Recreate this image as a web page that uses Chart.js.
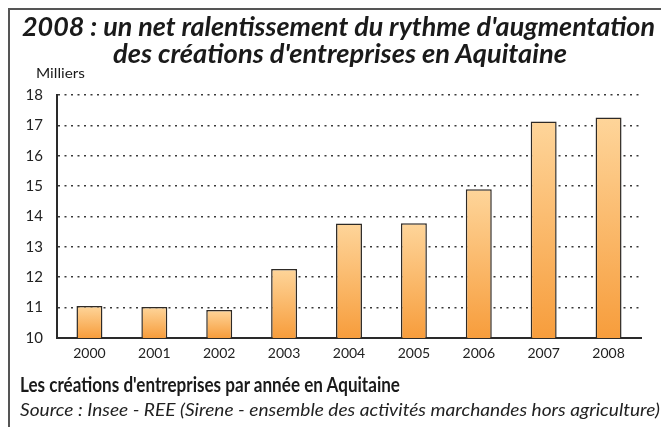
<!DOCTYPE html>
<html><head><meta charset="utf-8">
<script src="https://cdn.jsdelivr.net/npm/chart.js@4.4.0/dist/chart.umd.min.js"></script>
<style>
html,body{margin:0;padding:0;background:#fff;}
#wrap{position:relative;width:661px;height:427px;overflow:hidden;}
#frame{position:absolute;left:8px;top:8px;width:660px;height:430px;border-left:2px solid #555;border-top:2px solid #555;box-sizing:border-box;}
canvas{position:absolute;left:0;top:0;}
.t{position:absolute;white-space:nowrap;color:#1a1a1a;transform-origin:0 0;}
#t1,#t2{font-family:Lato,"Open Sans",sans-serif;font-weight:bold;font-style:italic;font-size:27px;line-height:1;}
#t1{top:12px;}
#t2{top:39px;}
#unit{left:36px;top:66px;font-family:Lato,sans-serif;font-size:14px;line-height:1;}
#sub{left:20px;top:374px;font-family:Lato,sans-serif;font-weight:bold;font-size:20px;line-height:1;}
#src{left:20px;top:401px;font-family:Lato,sans-serif;font-style:italic;font-size:17.5px;line-height:1;color:#222;}
</style></head>
<body><div id="wrap">
<div id="frame"></div>
<canvas id="c" width="661" height="427"></canvas>
<div class="t" id="t1">2008 : un net ralentissement du rythme d'augmentation</div>
<div class="t" id="t2">des créations d'entreprises en Aquitaine</div>
<div class="t" id="unit">Milliers</div>
<div class="t" id="sub">Les créations d'entreprises par année en Aquitaine</div>
<div class="t" id="src">Source : Insee - REE (Sirene - ensemble des activités marchandes hors agriculture)</div>
</div>
<script>
const categories = ["2000","2001","2002","2003","2004","2005","2006","2007","2008"];
const creations = [11.05, 11.02, 10.92, 12.27, 13.77, 13.78, 14.90, 17.13, 17.26];
const yTicks = [10,11,12,13,14,15,16,17,18];

function fit(id, left, width){
  const el = document.getElementById(id);
  el.style.transform = 'none';
  const w = el.getBoundingClientRect().width;
  el.style.left = left + 'px';
  el.style.transform = 'scaleX(' + (width / w) + ')';
}
function layoutText(){
  fit('t1', 22, 633);
  fit('t2', 113, 454);
  fit('unit', 36, 49);
  fit('sub', 20, 380);
  fit('src', 20, 640);
}
layoutText();
if (document.fonts && document.fonts.ready) document.fonts.ready.then(layoutText);

function barGradient(ctx){
  const chart = ctx.chart;
  if(!chart.chartArea || ctx.type !== 'data') return '#F9B060';
  const ys = chart.scales.y;
  const top = ys.getPixelForValue(ctx.raw);
  const bot = ys.getPixelForValue(ys.min);
  const g = chart.ctx.createLinearGradient(0, top, 0, bot);
  g.addColorStop(0, '#FED59A');
  g.addColorStop(1, '#F79D3C');
  return g;
}

new Chart(document.getElementById('c'), {
  type: 'bar',
  data: { labels: categories, datasets: [{
    data: creations,
    backgroundColor: barGradient,
    borderColor: '#2e2a26',
    borderWidth: 1.5,
    borderSkipped: false,
    barPercentage: 0.4,
    categoryPercentage: 1
  }]},
  options: {
    responsive: false,
    animation: false,
    events: [],
    layout: { padding: { left: 0, right: 20, top: 95, bottom: 0 } },
    plugins: { legend: { display: false }, tooltip: { enabled: false }, title: { display: false } },
    scales: {
      x: {
        grid: { display: false, drawTicks: false },
        border: { display: true, color: '#2a2a2a', width: 2 },
        ticks: { color: '#222', font: { family: 'Lato', size: 14 }, padding: 7, maxRotation: 0 },
        afterFit: (s) => { s.height = 89; }
      },
      y: {
        min: 10, max: 18,
        afterBuildTicks: (s) => { s.ticks = yTicks.map(v => ({ value: v })); },
        grid: { color: '#3a3a3a', lineWidth: 1.6, drawTicks: false },
        border: { display: true, color: '#2a2a2a', width: 2, dash: [2, 4.5] },
        ticks: { color: '#222', font: { family: 'Lato', size: 15 }, padding: 14 },
        afterFit: (s) => { s.width = 57; }
      }
    }
  }
});
</script>
</body></html>
